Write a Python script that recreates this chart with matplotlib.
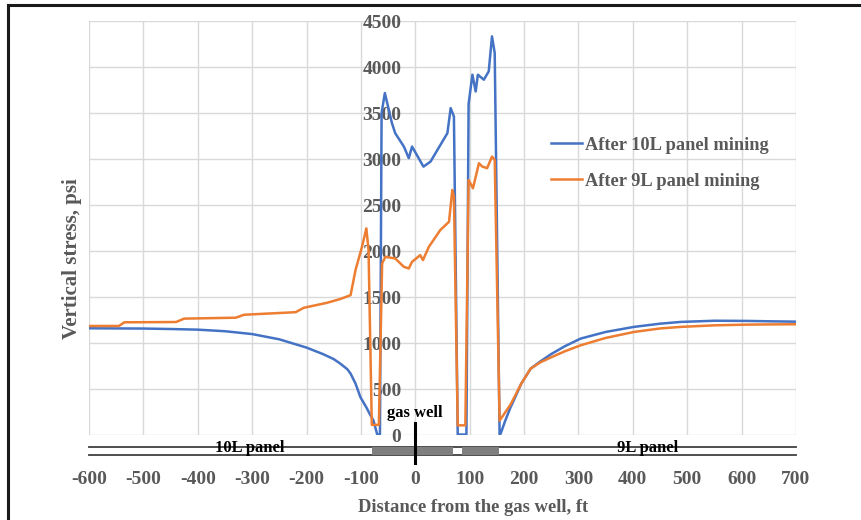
import matplotlib
matplotlib.use("Agg")
import matplotlib.pyplot as plt
from matplotlib.lines import Line2D

plt.rcParams["axes.unicode_minus"] = False

# ---- data ----
dist_10l = [-600, -500, -450, -400, -350, -300, -250, -200, -170, -150, -138, -125, -119, -110,
            -101, -90, -83, -77, -70, -65, -62, -56, -43, -37, -21, -12, -6, 15, 28, 59, 65, 71,
            78, 94, 98, 105, 111, 115, 126, 135, 141, 146, 155, 157, 165, 175, 181, 195, 212,
            230, 250, 275, 304, 350, 402, 450, 488, 550, 611, 650, 700]
stress_10l = [1160, 1157, 1152, 1145, 1128, 1097, 1040, 950, 880, 825, 776, 715, 667, 560,
              412, 300, 220, 158, 5, 5, 3500, 3717, 3390, 3281, 3135, 3009, 3135, 2917, 2972, 3281, 3553, 3462,
              5, 5, 3600, 3916, 3734, 3916, 3862, 3952, 4333, 4152, 5, 16, 150, 300, 376, 560, 721,
              800, 880, 965, 1048, 1120, 1175, 1210, 1229, 1242, 1240, 1236, 1232]

dist_9l = [-600, -545, -535, -440, -425, -330, -315, -220, -205, -163, -138, -119, -110, -98,
           -90, -86, -80, -67, -61, -55, -37, -21, -12, -6, 9, 14, 25, 46, 62, 68,
           71, 78, 92, 98, 106, 117, 123, 132, 141, 146, 155, 160, 175, 195, 212, 230, 250,
           275, 304, 350, 402, 450, 488, 550, 611, 700]
stress_9l = [1185, 1185, 1225, 1228, 1265, 1275, 1307, 1335, 1383, 1436, 1478, 1520, 1792, 2046,
             2246, 2010, 110, 110, 1865, 1937, 1919, 1828, 1810, 1882, 1955, 1901, 2046, 2228, 2318, 2663,
             2591, 105, 105, 2772, 2682, 2954, 2918, 2900, 3026, 2990, 158, 200, 330, 560, 721, 790, 845,
             910, 975, 1055, 1120, 1158, 1175, 1192, 1200, 1204]

# mined-out sections shown under the axis (ft)
gob_spans = [(-80, 70), (85, 153)]
x_ticks = list(range(-600, 701, 100))
y_ticks = list(range(0, 4501, 500))

BLUE = "#4472C4"
ORANGE = "#ED7D31"
GRAY_TXT = "#595959"
SERIF = ["Liberation Serif", "DejaVu Serif"]

W, H = 861, 520
fig = plt.figure(figsize=(W / 100, H / 100), dpi=100)
ax = fig.add_axes([89 / W, (H - 435) / H, (796 - 89) / W, (435 - 21) / H])

ax.plot(dist_10l, stress_10l, color=BLUE, lw=1.8, label="After 10L panel mining", zorder=3)
ax.plot(dist_9l, stress_9l, color=ORANGE, lw=1.8, label="After 9L panel mining", zorder=3)

ax.set_xlim(-600, 700)
ax.set_ylim(0, 4500)
ax.set_xticks(x_ticks)
ax.set_yticks(y_ticks)
ax.grid(True, color="#D9D9D9", lw=1.0, zorder=0)
for s in ax.spines.values():
    s.set_visible(False)
ax.spines["left"].set_position(("data", 0))
ax.tick_params(length=0)
ax.tick_params(axis="x", pad=26)
ax.tick_params(axis="y", pad=10)
for lab in ax.get_xticklabels() + ax.get_yticklabels():
    lab.set_fontfamily(SERIF)
    lab.set_fontweight("bold")
    lab.set_fontsize(14)
    lab.set_color(GRAY_TXT)

# panel schematic below the axis
y_top, y_bot = -133, -212
for yy in (y_top, y_bot):
    ax.plot([-600, 700], [yy, yy], color="#404040", lw=1.3, clip_on=False, zorder=2)
for a, b in gob_spans:
    ax.fill_between([a, b], y_bot, y_top, color="#7F7F7F", lw=0, clip_on=False, zorder=2)
ax.plot([0, 0], [130, -300], color="black", lw=2.2, clip_on=False, zorder=4)
ax.text(0, 240, "gas well", ha="center", va="center", fontsize=12, fontweight="bold",
        family=SERIF, color="black")
ax.text(-304, (y_top + y_bot) / 2 + 35, "10L panel", ha="center", va="center", fontsize=12,
        fontweight="bold", family=SERIF, color="black", clip_on=False)
ax.text(427, (y_top + y_bot) / 2 + 35, "9L panel", ha="center", va="center", fontsize=12,
        fontweight="bold", family=SERIF, color="black", clip_on=False)

leg = ax.legend(loc="upper left", bbox_to_anchor=(534 / W, (H - 120) / H),
                bbox_transform=fig.transFigure, frameon=False,
                prop={"family": SERIF, "weight": "bold", "size": 13.2},
                handlelength=1.7, handletextpad=0.2, labelspacing=1.05)
for t in leg.get_texts():
    t.set_color(GRAY_TXT)

fig.text(473 / W, (H - 507) / H, "Distance from the gas well, ft", ha="center", va="center",
         fontsize=13.4, fontweight="bold", family=SERIF, color=GRAY_TXT)
fig.text(72 / W, (H - 259) / H, "Vertical stress, psi", ha="center", va="center", rotation=90,
         fontsize=15, fontweight="bold", family=SERIF, color=GRAY_TXT)

# frame around the figure
fig.add_artist(Line2D([8 / W, 8 / W], [0, (H - 5) / H], color="#1a1a1a", lw=2.2))
fig.add_artist(Line2D([8 / W, 1], [(H - 5) / H, (H - 5) / H], color="#1a1a1a", lw=2.2))

fig.savefig("out.png", dpi=100)
